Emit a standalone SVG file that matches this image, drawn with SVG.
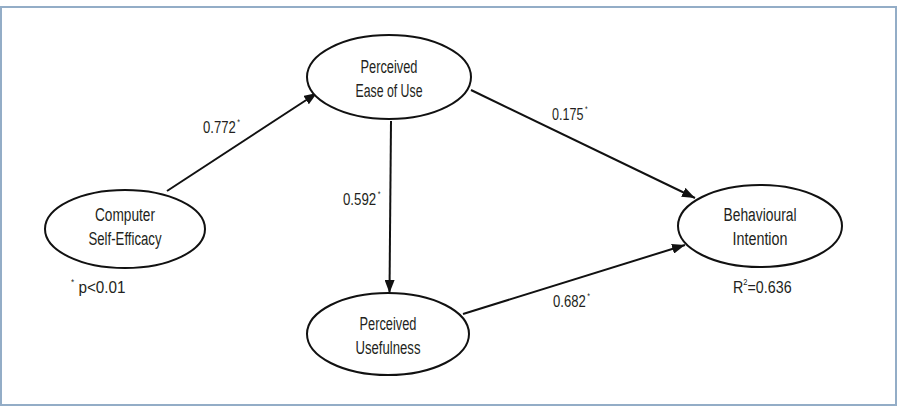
<svg xmlns="http://www.w3.org/2000/svg" width="899" height="420" viewBox="0 0 899 420">
<style>
  .node ellipse { fill: #ffffff; stroke: #111111; stroke-width: 2; }
  .node text, .lbl { font-family: "Liberation Sans", Arial, sans-serif; fill: #231f20; }
  .node text { font-size: 18px; text-anchor: middle; }
  .lbl { font-size: 17px; }
  .sup { font-size: 9px; }
  .edge { stroke: #111111; stroke-width: 2; fill: none; marker-end: url(#arr); }
</style>
<defs>
  <marker id="arr" markerUnits="userSpaceOnUse" markerWidth="14" markerHeight="10" refX="13" refY="5" orient="auto">
    <path d="M0,0 L13,5 L0,10 z" fill="#111111"/>
  </marker>
</defs>
<rect x="1" y="7" width="895" height="398" fill="#ffffff" stroke="#93adc7" stroke-width="2"/>
<g id="connectors">
  <line class="edge" x1="167" y1="191" x2="317" y2="93"/>
  <line class="edge" x1="471" y1="90" x2="695" y2="198"/>
  <line class="edge" x1="391" y1="121" x2="389.5" y2="293"/>
  <line class="edge" x1="463" y1="314" x2="685" y2="245"/>
</g>
<g id="node-cse" class="node">
  <ellipse cx="125" cy="229" rx="80" ry="39"/>
  <text x="125" y="221" textLength="60" lengthAdjust="spacingAndGlyphs">Computer</text>
  <text x="125" y="245" textLength="73" lengthAdjust="spacingAndGlyphs">Self-Efficacy</text>
</g>
<g id="node-peou" class="node">
  <ellipse cx="389" cy="77" rx="82" ry="42"/>
  <text x="389" y="73" textLength="57" lengthAdjust="spacingAndGlyphs">Perceived</text>
  <text x="389" y="97" textLength="67" lengthAdjust="spacingAndGlyphs">Ease of Use</text>
</g>
<g id="node-pu" class="node">
  <ellipse cx="388" cy="334" rx="81" ry="41"/>
  <text x="388" y="330" textLength="57" lengthAdjust="spacingAndGlyphs">Perceived</text>
  <text x="388" y="354" textLength="65" lengthAdjust="spacingAndGlyphs">Usefulness</text>
</g>
<g id="node-bi" class="node">
  <ellipse cx="760" cy="226" rx="82" ry="41"/>
  <text x="760" y="221" textLength="73" lengthAdjust="spacingAndGlyphs">Behavioural</text>
  <text x="760" y="245" textLength="55" lengthAdjust="spacingAndGlyphs">Intention</text>
</g>
<g id="labels">
  <text class="lbl" transform="translate(203,133) scale(0.77,1)">0.772<tspan class="sup" dx="2" dy="-8">*</tspan></text>
  <text class="lbl" transform="translate(552,120) scale(0.74,1)">0.175<tspan class="sup" dx="2" dy="-8">*</tspan></text>
  <text class="lbl" transform="translate(343,205) scale(0.78,1)">0.592<tspan class="sup" dx="2" dy="-8">*</tspan></text>
  <text class="lbl" transform="translate(553,307) scale(0.77,1)">0.682<tspan class="sup" dx="2" dy="-8">*</tspan></text>
  <text class="lbl" transform="translate(71,293) scale(0.9,1)"><tspan class="sup" dy="-8">*</tspan><tspan dy="8"> p&lt;0.01</tspan></text>
  <text class="lbl" transform="translate(733,293) scale(0.84,1)">R<tspan class="sup" dy="-8">2</tspan><tspan dy="8">=0.636</tspan></text>
</g>
</svg>
